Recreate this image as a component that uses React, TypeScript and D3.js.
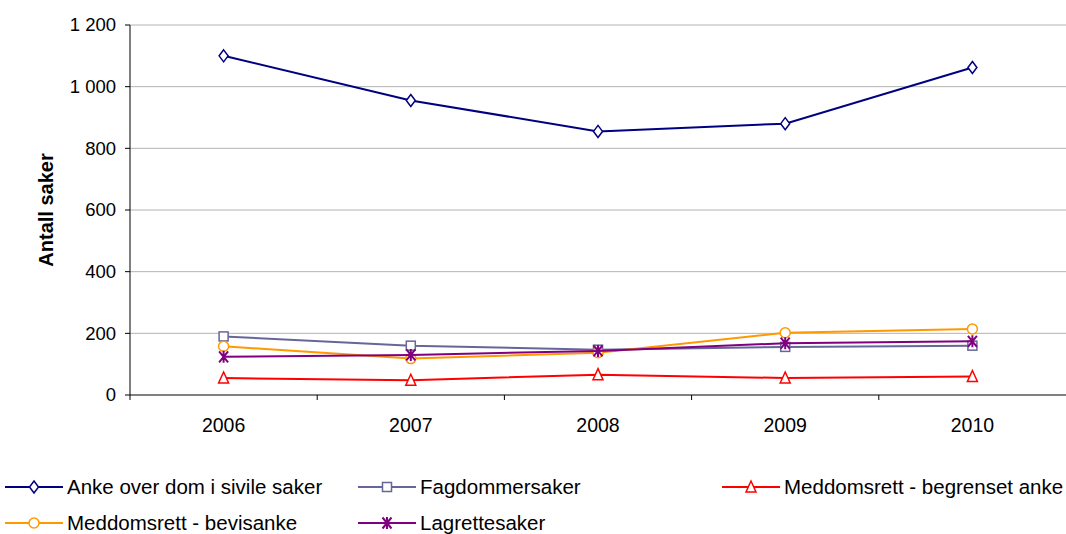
import React from "react";
import * as d3 from "d3";

const years = ["2006", "2007", "2008", "2009", "2010"];
const anke = [1100, 955, 855, 880, 1062];
const fagdommer = [190, 160, 147, 156, 160];
const begrenset = [55, 48, 66, 55, 60];
const bevisanke = [158, 118, 137, 202, 214];
const lagrette = [124, 130, 143, 168, 174];
const yTicks = [0, 200, 400, 600, 800, 1000, 1200];

const series = [
  { name: "Anke over dom i sivile saker", values: anke, color: "#000080", marker: "diamond" },
  { name: "Fagdommersaker", values: fagdommer, color: "#666699", marker: "square" },
  { name: "Meddomsrett - begrenset anke", values: begrenset, color: "#FF0000", marker: "triangle" },
  { name: "Meddomsrett - bevisanke", values: bevisanke, color: "#FF9900", marker: "circle" },
  { name: "Lagrettesaker", values: lagrette, color: "#800080", marker: "star" },
];

const W = 1066, H = 534;
const left = 130, right = 1066, top = 25, bottom = 395;
const font = "'Liberation Sans', Arial, sans-serif";

function Marker({ type, x, y, color }: { type: string; x: number; y: number; color: string }) {
  const sw = 1.5;
  if (type === "diamond")
    return <path d={`M${x},${y - 6}L${x + 4.5},${y}L${x},${y + 6}L${x - 4.5},${y}Z`} fill="white" stroke={color} strokeWidth={sw} />;
  if (type === "square")
    return <rect x={x - 4.5} y={y - 4.5} width={9} height={9} fill="white" stroke={color} strokeWidth={sw} />;
  if (type === "triangle")
    return <path d={`M${x},${y - 6}L${x + 5},${y + 5}L${x - 5},${y + 5}Z`} fill="white" stroke={color} strokeWidth={sw} />;
  if (type === "circle")
    return <circle cx={x} cy={y} r={5} fill="white" stroke={color} strokeWidth={sw} />;
  return (
    <path d={`M${x - 4.5},${y - 5.5}L${x + 4.5},${y + 5.5}M${x + 4.5},${y - 5.5}L${x - 4.5},${y + 5.5}M${x},${y - 6}L${x},${y + 6}`} stroke={color} strokeWidth={2} fill="none" />
  );
}

export default function App() {
  const x = d3.scaleBand<string>().domain(years).range([left, right]);
  const y = d3.scaleLinear().domain([0, 1200]).range([bottom, top]);
  const fmt = (v: number) => d3.format(",")(v).replace(/,/g, " ");
  const line = d3.line<number>().x((_, i) => x(years[i])! + x.bandwidth() / 2).y((d) => y(d));

  const legendPos = [
    { lx: 5, ly: 487 },
    { lx: 358, ly: 487 },
    { lx: 722, ly: 487 },
    { lx: 5, ly: 523 },
    { lx: 358, ly: 523 },
  ];

  return (
    <svg width={W} height={H} style={{ position: "absolute", left: 0, top: 0, fontFamily: font }}>
      <rect width={W} height={H} fill="white" />
      {yTicks.map((t) => (
        <g key={t}>
          {t > 0 && <line x1={left} x2={right} y1={y(t)} y2={y(t)} stroke="#b4b4b4" strokeWidth={1} />}
          <line x1={left - 5} x2={left} y1={y(t)} y2={y(t)} stroke="black" />
          <text x={left - 14} y={y(t)} dy="0.35em" textAnchor="end" fontSize={18.5}>{fmt(t)}</text>
        </g>
      ))}
      <line x1={left} x2={left} y1={top} y2={bottom} stroke="black" />
      <line x1={left} x2={right} y1={bottom} y2={bottom} stroke="black" />
      {years.map((yr) => (
        <g key={yr}>
          <line x1={x(yr)!} x2={x(yr)!} y1={bottom} y2={bottom + 5} stroke="black" />
          <text x={x(yr)! + x.bandwidth() / 2} y={432} textAnchor="middle" fontSize={19.5}>{yr}</text>
        </g>
      ))}
      <text transform={`translate(53,${(top + bottom) / 2}) rotate(-90)`} textAnchor="middle" fontSize={20} fontWeight="bold">Antall saker</text>
      {series.map((s) => (
        <g key={s.name}>
          <path d={line(s.values)!} fill="none" stroke={s.color} strokeWidth={2} />
          {s.values.map((v, i) => (
            <Marker key={i} type={s.marker} x={x(years[i])! + x.bandwidth() / 2} y={y(v)} color={s.color} />
          ))}
        </g>
      ))}
      {series.map((s, i) => {
        const { lx, ly } = legendPos[i];
        return (
          <g key={s.name}>
            <line x1={lx} x2={lx + 58} y1={ly} y2={ly} stroke={s.color} strokeWidth={2} />
            <Marker type={s.marker} x={lx + 29} y={ly} color={s.color} />
            <text x={lx + 62} y={ly} dy="0.35em" fontSize={20.5}>{s.name}</text>
          </g>
        );
      })}
    </svg>
  );
}
